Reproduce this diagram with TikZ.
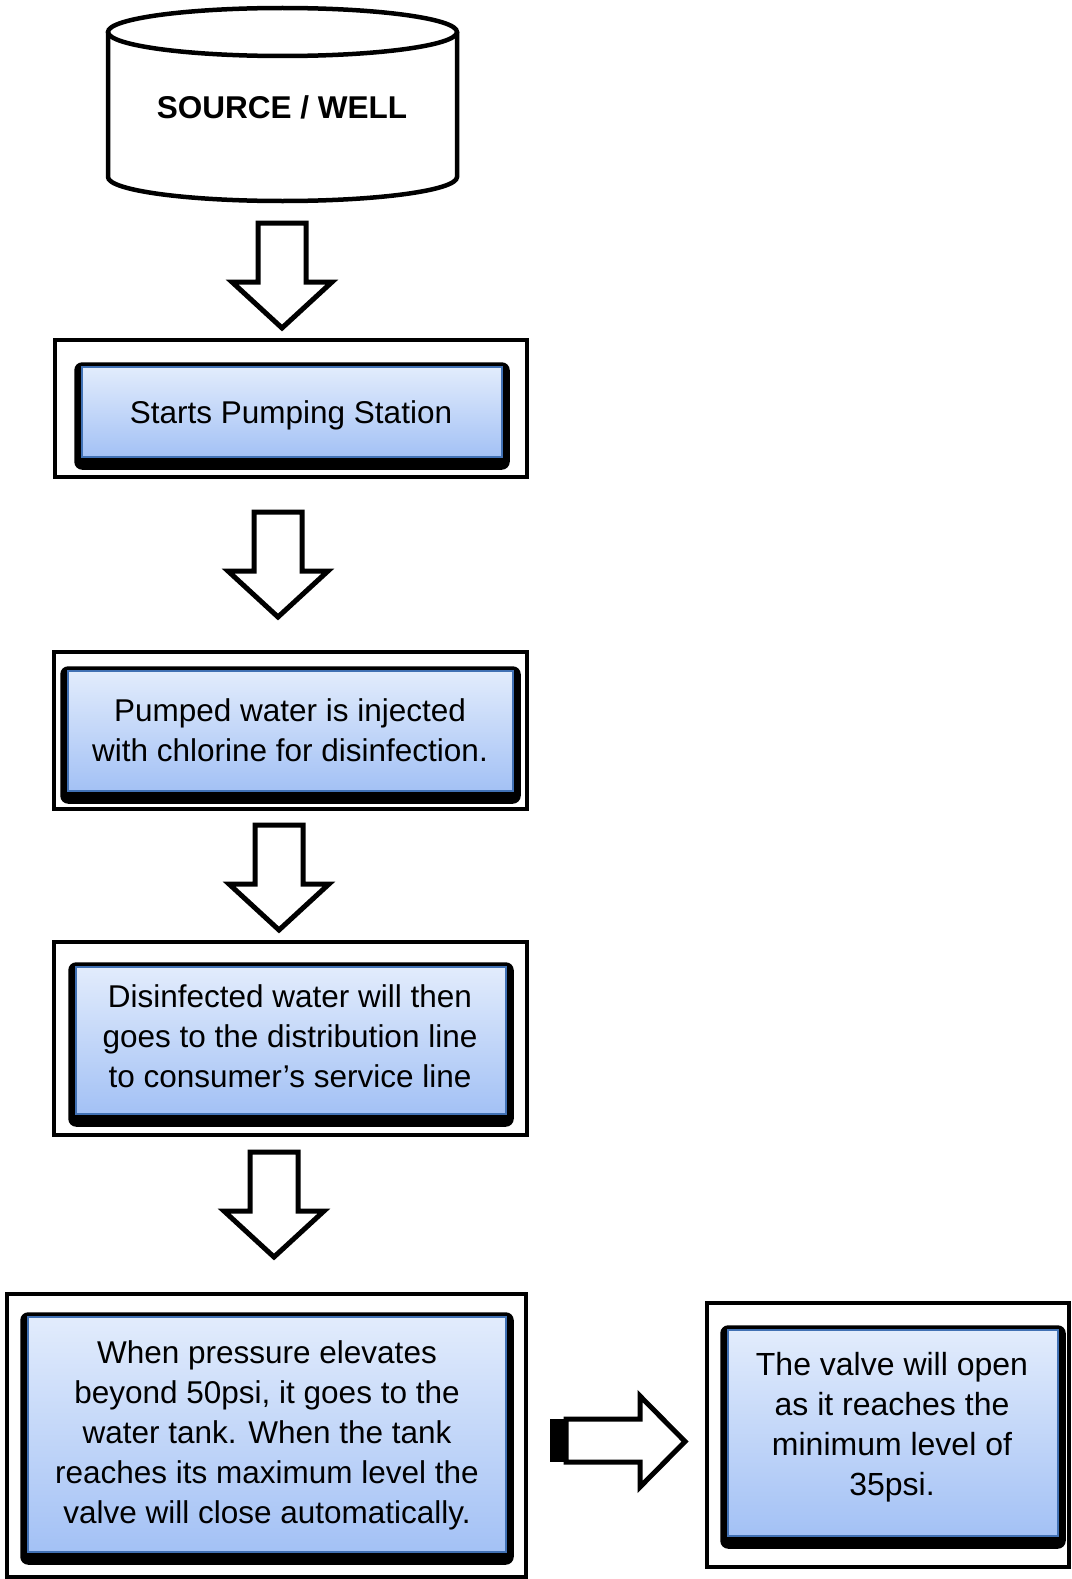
\documentclass[tikz,border=0pt]{standalone}
\usepackage{fontspec}
\setmainfont{Liberation Sans}
\pgfdeclarelayer{shadowlayer}
\pgfsetlayers{shadowlayer,main}
\definecolor{blueedge}{RGB}{65,113,180}
\definecolor{bluetop}{RGB}{226,236,252}
\definecolor{bluebot}{RGB}{163,193,245}
\newcommand\boxshadow[1]{%
  \begin{pgfonlayer}{shadowlayer}
    \fill[black,rounded corners=8pt] ([shift={(-7,-4)}]#1.north west) rectangle ([shift={(7,12)}]#1.south east);
  \end{pgfonlayer}}
\begin{document}
\begin{tikzpicture}[x=1pt,y=-1pt,
  frame/.style={draw=black,line width=4pt,inner sep=0pt},
  bluebox/.style={draw=blueedge,line width=1.5pt,top color=bluetop,bottom color=bluebot,inner sep=0pt},
  txt/.style={font=\fontsize{31.5pt}{40pt}\selectfont,align=center,inner sep=0pt},
  cyl/.style={draw=black,line width=4.5pt},
  blockarrow/.style={draw=black,line width=5pt,fill=white,line join=miter},
  dnarrow/.pic={\draw[blockarrow] (-24,0) -- (24,0) -- (24,59) -- (50,59) -- (0,105) -- (-50,59) -- (-24,59) -- cycle;}
]
\begin{pgfonlayer}{shadowlayer}
\fill[white] (0,0) rectangle (1071,1579);
\end{pgfonlayer}
\useasboundingbox (0,0) rectangle (1071,1579);

% source / well cylinder
\draw[cyl] (108,32) -- (108,177) arc[start angle=180,end angle=0,x radius=174.5,y radius=24] -- (457,32);
\draw[cyl] (282.5,32) ellipse[x radius=174.5,y radius=24];
\node[font=\fontsize{31.5pt}{40pt}\selectfont\bfseries,inner sep=0pt,anchor=base] (src) at (282,118) {SOURCE / WELL};

% box 1
\node[frame,minimum width=472pt,minimum height=137pt] (f1) at (291,408.5) {};
\node[bluebox,minimum width=420pt,minimum height=90pt] (b1) at (292,412) {};
\boxshadow{b1}
\node[txt,anchor=base] (t1) at (291,423) {Starts Pumping Station};

% box 2
\node[frame,minimum width=473pt,minimum height=157pt] (f2) at (290.5,730.5) {};
\node[bluebox,minimum width=445pt,minimum height=120pt] (b2) at (290.5,731) {};
\boxshadow{b2}
\node[txt] (t2) at (290,730.5) {Pumped water is injected\\with chlorine for disinfection.};

% box 3
\node[frame,minimum width=473pt,minimum height=193pt] (f3) at (290.5,1038.5) {};
\node[bluebox,minimum width=430pt,minimum height=147pt] (b3) at (291,1040.5) {};
\boxshadow{b3}
\node[txt] (t3) at (290,1036) {Disinfected water will then\\goes to the distribution line\\to consumer’s service line};

% box 4
\node[frame,minimum width=519pt,minimum height=283pt] (f4) at (266.5,1435.5) {};
\node[bluebox,minimum width=478pt,minimum height=235pt] (b4) at (267,1434.5) {};
\boxshadow{b4}
\node[txt] (t4) at (267,1435) {When pressure elevates\\beyond 50psi, it goes to the\\water tank. When the tank\\reaches its maximum level the\\valve will close automatically.};

% box 5
\node[frame,minimum width=362pt,minimum height=264pt] (f5) at (888,1435) {};
\node[bluebox,minimum width=330pt,minimum height=206pt] (b5) at (893,1433) {};
\boxshadow{b5}
\node[txt,font=\fontsize{32pt}{40pt}\selectfont] (t5) at (892,1427) {The valve will open\\as it reaches the\\minimum level of\\35psi.};

% block arrows down
\pic at (282,223) {dnarrow};
\pic at (278,512) {dnarrow};
\pic at (279,825) {dnarrow};
\pic at (274,1152) {dnarrow};

% block arrow right
\fill[black] (550,1419) rectangle (567,1462);
\draw[blockarrow] (566,1419) -- (640,1419) -- (640,1396) -- (685,1441.5) -- (640,1487) -- (640,1462) -- (566,1462) -- cycle;
\end{tikzpicture}
\end{document}
